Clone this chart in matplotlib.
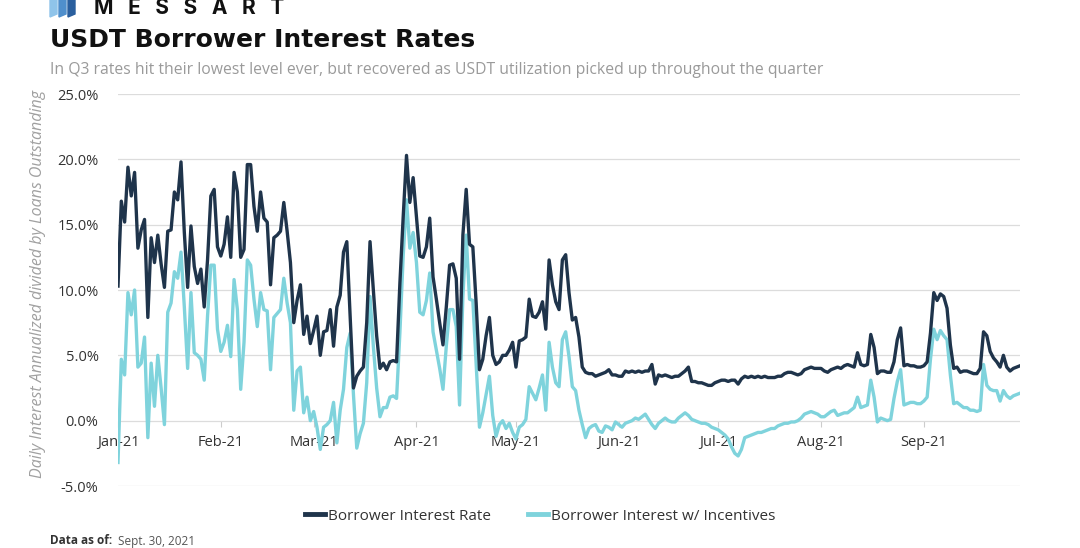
import matplotlib
matplotlib.use("Agg")
import matplotlib.pyplot as plt
import matplotlib.dates as mdates
from matplotlib.ticker import FuncFormatter, MultipleLocator
from matplotlib.patches import Polygon
import pandas as pd

# daily values, Jan 1 - Sep 30 2021 (percent)
borrow_rate = [
    10.3, 16.8, 15.2, 19.4, 17.2, 19.0, 13.2, 14.6, 15.4, 7.9,
    14.0, 12.1, 14.2, 12.0, 10.2, 14.5, 14.6, 17.5, 16.9, 19.8,
    14.4, 10.2, 14.9, 11.8, 10.5, 11.6, 8.7, 12.3, 17.2, 17.7,
    13.3, 12.6, 13.5, 15.6, 12.5, 19.0, 17.5, 12.5, 13.1, 19.6,
    19.6, 16.4, 14.5, 17.5, 15.5, 15.2, 10.4, 14.0, 14.2, 14.5,
    16.7, 14.5, 12.1, 7.5, 9.2, 10.4, 6.6, 8.0, 5.9, 6.9,
    8.0, 5.0, 6.8, 6.9, 8.5, 5.7, 8.7, 9.6, 12.9, 13.7,
    8.0, 2.5, 3.4, 3.8, 4.1, 7.5, 13.7, 10.0, 6.5, 4.0,
    4.4, 3.9, 4.5, 4.6, 4.5, 10.5, 15.6, 20.3, 16.7, 18.6,
    15.6, 12.6, 12.5, 13.3, 15.5, 11.0, 9.3, 7.5, 5.8, 8.7,
    11.9, 12.0, 10.9, 4.7, 14.2, 17.7, 13.5, 13.3, 9.0, 3.9,
    4.7, 6.5, 7.9, 5.0, 4.3, 4.5, 5.0, 5.0, 5.4, 6.0,
    4.1, 6.1, 6.2, 6.4, 9.3, 8.0, 7.9, 8.3, 9.1, 7.0,
    12.3, 10.4, 9.1, 8.5, 12.3, 12.7, 9.8, 7.7, 7.9, 6.4,
    4.1, 3.7, 3.6, 3.6, 3.4, 3.5, 3.6, 3.7, 3.9, 3.5,
    3.5, 3.4, 3.4, 3.8, 3.7, 3.8, 3.7, 3.8, 3.7, 3.8,
    3.8, 4.3, 2.8, 3.5, 3.4, 3.5, 3.4, 3.3, 3.4, 3.4,
    3.6, 3.8, 4.1, 3.0, 3.0, 2.9, 2.9, 2.8, 2.7, 2.7,
    2.9, 3.0, 3.1, 3.1, 3.0, 3.1, 3.1, 2.8, 3.2, 3.4,
    3.3, 3.4, 3.3, 3.4, 3.3, 3.4, 3.3, 3.3, 3.3, 3.4,
    3.4, 3.6, 3.7, 3.7, 3.6, 3.5, 3.6, 3.9, 4.0, 4.1,
    4.0, 4.0, 4.0, 3.8, 3.7, 3.9, 4.0, 4.1, 4.0, 4.2,
    4.3, 4.2, 4.1, 5.2, 4.3, 4.2, 4.3, 6.6, 5.6, 3.6,
    3.8, 3.8, 3.7, 3.7, 4.5, 6.2, 7.1, 4.2, 4.3, 4.2,
    4.2, 4.1, 4.1, 4.2, 4.5, 6.7, 9.8, 9.2, 9.7, 9.5,
    8.6, 5.8, 4.0, 4.1, 3.7, 3.8, 3.8, 3.7, 3.6, 3.6,
    4.0, 6.8, 6.5, 5.3, 4.8, 4.5, 4.1, 5.0, 4.1, 3.8,
    4.0, 4.1, 4.2,
]

incentive_rate = [
    -3.2, 4.7, 3.5, 9.8, 8.1, 10.0, 4.1, 4.4, 6.4, -1.3,
    4.4, 1.1, 5.0, 2.5, -0.3, 8.3, 9.0, 11.4, 10.9, 12.9,
    8.7, 4.0, 9.8, 5.2, 5.0, 4.7, 3.1, 8.0, 11.9, 11.9,
    7.0, 5.3, 6.0, 7.3, 4.9, 10.8, 8.5, 2.4, 6.0, 12.3,
    11.9, 9.3, 7.2, 9.8, 8.5, 8.4, 3.9, 7.9, 8.2, 8.5,
    10.9, 9.0, 7.5, 0.8, 3.8, 4.1, 0.6, 1.8, 0.0, 0.7,
    -0.5, -2.2, -0.5, -0.3, 0.0, 1.4, -1.7, 0.8, 2.4, 5.6,
    6.7, 2.0, -2.1, -1.0, -0.2, 2.9, 9.5, 5.7, 2.5, 0.3,
    1.0, 1.0, 1.8, 1.9, 1.7, 6.7, 12.6, 16.9, 13.2, 14.4,
    12.1, 8.3, 8.1, 9.2, 11.3, 6.8, 5.4, 4.0, 2.4, 5.7,
    8.5, 8.5, 7.2, 1.2, 9.5, 14.2, 9.3, 9.2, 4.4, -0.5,
    0.6, 2.0, 3.4, 0.4, -1.2, -0.3, 0.0, -0.6, -0.2, -0.9,
    -1.4, -0.5, -0.3, 0.1, 2.6, 2.1, 1.6, 2.5, 3.5, 0.8,
    6.0, 4.1, 2.9, 2.6, 6.2, 6.8, 4.9, 2.6, 2.3, 0.8,
    -0.3, -1.3, -0.6, -0.4, -0.3, -0.8, -0.9, -0.4, -0.5, -0.7,
    -0.1, -0.3, -0.5, -0.2, -0.1, 0.0, 0.2, 0.1, 0.3, 0.5,
    0.1, -0.3, -0.6, -0.2, 0.0, 0.2, 0.0, -0.1, -0.1, 0.2,
    0.4, 0.6, 0.4, 0.1, 0.0, -0.1, -0.2, -0.2, -0.3, -0.5,
    -0.6, -0.7, -0.9, -1.1, -1.4, -2.0, -2.5, -2.7, -2.2, -1.3,
    -1.2, -1.1, -1.0, -0.9, -0.9, -0.8, -0.7, -0.6, -0.6, -0.4,
    -0.3, -0.2, -0.2, -0.1, -0.1, 0.0, 0.2, 0.5, 0.6, 0.7,
    0.6, 0.5, 0.3, 0.3, 0.5, 0.7, 0.8, 0.4, 0.5, 0.6,
    0.6, 0.8, 1.0, 1.8, 1.0, 1.1, 1.2, 3.1, 1.8, -0.1,
    0.2, 0.1, 0.0, 0.1, 1.7, 3.0, 3.9, 1.2, 1.3, 1.4,
    1.4, 1.3, 1.3, 1.5, 1.8, 4.7, 7.0, 6.2, 6.9, 6.5,
    6.2, 3.5, 1.3, 1.4, 1.2, 1.0, 1.0, 0.8, 0.8, 0.7,
    0.8, 4.3, 2.7, 2.4, 2.3, 2.3, 1.5, 2.3, 1.9, 1.7,
    1.9, 2.0, 2.1,
]

series_names = ["Borrower Interest Rate", "Borrower Interest w/ Incentives"]
dates = pd.date_range("2021-01-01", periods=len(borrow_rate), freq="D")
dates_inc = pd.date_range("2021-01-01", periods=len(incentive_rate), freq="D")

DARK = "#1f344b"
LIGHT = "#7fd3dc"

plt.rcParams["font.family"] = ["Open Sans", "DejaVu Sans"]

fig = plt.figure(figsize=(10.8, 5.48), dpi=100)
ax = fig.add_axes([118 / 1080, 1 - 486 / 548, (1020 - 118) / 1080, (486 - 94) / 548])

ax.plot(dates, borrow_rate, color=DARK, lw=2.4, label=series_names[0], zorder=3)
ax.plot(dates_inc, incentive_rate, color=LIGHT, lw=2.4, label=series_names[1], zorder=2)

ax.set_ylim(-5, 25)
ax.set_xlim(pd.Timestamp("2021-01-01"), pd.Timestamp("2021-09-30"))
ax.yaxis.set_major_locator(MultipleLocator(5))
ax.yaxis.set_major_formatter(FuncFormatter(lambda v, p: f"{v:.1f}%"))
ax.grid(axis="y", color="#dcdcdc", lw=0.9)
ax.set_axisbelow(True)

for s in ["top", "right", "left"]:
    ax.spines[s].set_visible(False)
ax.spines["bottom"].set_position(("data", 0))
ax.spines["bottom"].set_visible(False)

ax.xaxis.set_major_locator(mdates.MonthLocator())
ax.xaxis.set_major_formatter(mdates.DateFormatter("%b-%y"))
ax.tick_params(axis="x", length=4, color="#cccccc", pad=6, labelsize=10.5, labelcolor="#333333")
ax.tick_params(axis="y", length=0, pad=14, labelsize=10.5, labelcolor="#333333")

ax.set_ylabel("Daily Interest Annualized divided by Loans Outstanding",
              fontsize=11.5, style="italic", color="#a0a0a0", labelpad=12)
ax.yaxis.set_label_coords(-0.08, 0.515)

# header
fig.text(50 / 1080, 1 - 40 / 548, "USDT Borrower Interest Rates", fontsize=18,
         fontweight="bold", family=["DejaVu Sans"], color="#111111", va="center")
fig.text(50 / 1080, 1 - 70 / 548,
         "In Q3 rates hit their lowest level ever, but recovered as USDT utilization picked up throughout the quarter",
         fontsize=11.3, color="#9a9a9a", va="center")
fig.text(94 / 1080, 1 - 14 / 548, "M   E   S   S   A   R   T", fontsize=15, fontweight="bold",
         family=["Inter", "DejaVu Sans"], color="#111111", va="baseline")
for i, c in enumerate(["#8fc4ea", "#4f8fcc", "#2a5f9e"]):
    x0 = 50 + i * 9
    fig.patches.append(Polygon([((x0) / 1080, 1), ((x0 + 7) / 1080, 1),
                                ((x0 + 7) / 1080, 1 - 14 / 548), ((x0) / 1080, 1 - 17 / 548)],
                               closed=True, transform=fig.transFigure, color=c))

leg = fig.legend(loc="center", bbox_to_anchor=(0.5, 1 - 516 / 548), ncol=2, frameon=False,
                 fontsize=11, handlelength=1.3, handletextpad=0.2, columnspacing=2.4)
for line in leg.get_lines():
    line.set_linewidth(3.5)
for t in leg.get_texts():
    t.set_color("#333333")

fig.text(50 / 1080, 1 - 541 / 548, "Data as of:", fontsize=8.5, fontweight="bold",
         color="#333333", va="center")
fig.text(118 / 1080, 1 - 541 / 548, "Sept. 30, 2021", fontsize=8.5, color="#555555", va="center")

fig.savefig("out.png", dpi=100)
